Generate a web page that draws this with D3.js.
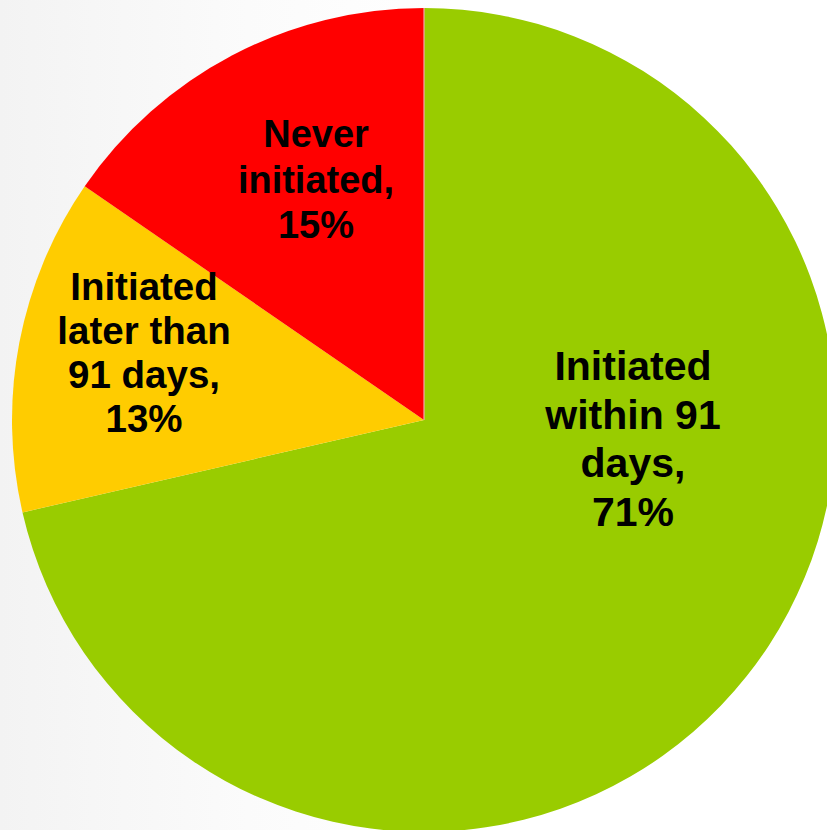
<!DOCTYPE html>
<html>
<head>
<meta charset="utf-8">
<script src="https://cdn.jsdelivr.net/npm/d3@7"></script>
<style>
  html, body { margin: 0; padding: 0; background: #fff; }
  svg { display: block; }
</style>
</head>
<body>
<svg id="chart" width="827" height="830"></svg>
<script>
// ---- data ----
const categories = ["Initiated within 91 days", "Initiated later than 91 days", "Never initiated"];
const values = [71.4, 13.2, 15.4];
const labelLines = [
  ["Initiated", "within 91", "days,", "71%"],
  ["Initiated", "later than", "91 days,", "13%"],
  ["Never", "initiated,", "15%"]
];
const colors = ["#99CC00", "#FFCC00", "#FF0000"];

// ---- layout ----
const W = 827, H = 830;
const cx = 424, cy = 420, R = 412;
// label block placement (dx, dy of first baseline from pie centre), font size, line height
const labelLayout = [
  { dx: 209, dy: -40, size: 41, lh: 48.5 },
  { dx: -280, dy: -120, size: 38.5, lh: 44 },
  { dx: -108, dy: -273, size: 38, lh: 45.5 }
];

const svg = d3.select("#chart");
const defs = svg.append("defs");
const grad = defs.append("linearGradient").attr("id", "bg").attr("x1", "0").attr("x2", "1").attr("y1", "0").attr("y2", "0");
grad.append("stop").attr("offset", "0%").attr("stop-color", "#f3f3f3");
grad.append("stop").attr("offset", "30%").attr("stop-color", "#fbfbfb");
grad.append("stop").attr("offset", "55%").attr("stop-color", "#ffffff");
svg.append("rect").attr("width", W).attr("height", H).attr("fill", "url(#bg)");

const data = categories.map((c, i) => ({ cat: c, value: values[i], lines: labelLines[i], color: colors[i], layout: labelLayout[i] }));

const pie = d3.pie().value(d => d.value).sort(null);
const arc = d3.arc().innerRadius(0).outerRadius(R);
const arcs = pie(data);

const g = svg.append("g").attr("transform", `translate(${cx},${cy})`);
g.selectAll("path.slice")
  .data(arcs)
  .enter().append("path")
  .attr("class", "slice")
  .attr("d", arc)
  .attr("fill", d => d.data.color);

// thin light seam at the start angle (12 o'clock)
const a0 = arcs[0].startAngle;
g.append("line")
  .attr("x1", 0).attr("y1", 0)
  .attr("x2", R * Math.sin(a0)).attr("y2", -R * Math.cos(a0))
  .attr("stroke", "#f7a3b0").attr("stroke-width", 1.2);

const labels = g.selectAll("text.lbl")
  .data(arcs)
  .enter().append("text")
  .attr("class", "lbl")
  .attr("text-anchor", "middle")
  .attr("font-family", "Liberation Sans, Arial, sans-serif")
  .attr("font-weight", "bold")
  .attr("font-size", d => d.data.layout.size)
  .attr("fill", "#000")
  .attr("transform", d => `translate(${d.data.layout.dx},${d.data.layout.dy})`);

labels.each(function(d) {
  const t = d3.select(this);
  d.data.lines.forEach((line, i) => {
    t.append("tspan").attr("x", 0).attr("y", i * d.data.layout.lh).text(line);
  });
});
</script>
</body>
</html>
